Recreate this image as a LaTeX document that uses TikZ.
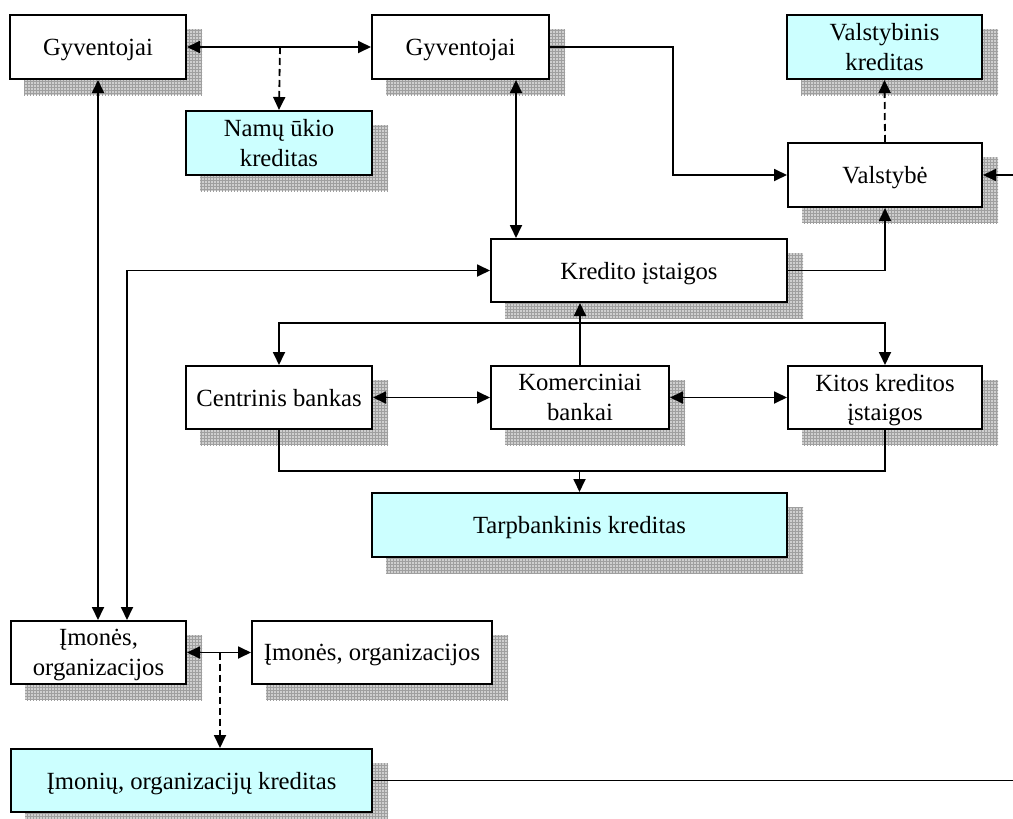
\documentclass[tikz,border=0pt]{standalone}
\usepackage{fontspec}
\setmainfont{Liberation Serif}
\usetikzlibrary{arrows.meta,patterns,backgrounds,calc}
\definecolor{lcyan}{HTML}{CCFFFF}
\tikzset{
  box/.style={draw, line width=2pt, fill=white, align=center, inner sep=0pt,
    text depth=0pt, font=\fontsize{24.7}{29.5}\selectfont},
  cbox/.style={box, fill=lcyan},
  conn/.style={line width=1.8pt},
  tip/.style={-{Triangle[length=13pt,width=12pt]}},
  bitip/.style={{Triangle[length=13pt,width=12pt]}-{Triangle[length=13pt,width=12pt]}},
  dconn/.style={conn, dash pattern=on 7pt off 4pt},
  shadowfill/.style={fill=gray!38},
  shadowgrid/.style={pattern=grid, pattern color=gray!75}
}
\begin{document}
\begin{tikzpicture}[x=1pt,y=-1pt]
\useasboundingbox (0,0) rectangle (1013,819);
\node[box, minimum width=176pt, minimum height=64pt] (g1) at (98,47) {Gyventojai};
\node[box, minimum width=177pt, minimum height=64pt] (g2) at (460.5,47) {Gyventojai};
\node[cbox, minimum width=186pt, minimum height=64pt] (namu) at (279,143) {Namų ūkio\\kreditas};
\node[cbox, minimum width=195pt, minimum height=64pt] (valk) at (884.5,47) {Valstybinis\\kreditas};
\node[box, minimum width=194pt, minimum height=64pt] (valst) at (885,175) {Valstybė};
\node[box, minimum width=296pt, minimum height=63pt] (kred) at (639,270.5) {Kredito įstaigos};
\node[box, minimum width=186pt, minimum height=63pt] (cb) at (279,397.5) {Centrinis bankas};
\node[box, minimum width=178pt, minimum height=63pt] (kom) at (580,397.5) {Komerciniai\\bankai};
\node[box, minimum width=194pt, minimum height=63pt] (kitos) at (885,397.5) {Kitos kreditos\\įstaigos};
\node[cbox, minimum width=415pt, minimum height=64pt] (tarp) at (579.5,525) {Tarpbankinis kreditas};
\node[box, minimum width=175pt, minimum height=63pt] (im1) at (98.5,652.5) {Įmonės,\\organizacijos};
\node[box, minimum width=240pt, minimum height=63pt] (im2) at (372,652.5) {Įmonės, organizacijos};
\node[cbox, minimum width=361pt, minimum height=63pt] (imk) at (191.5,780.5) {Įmonių, organizacijų kreditas};

\begin{scope}[on background layer]
\foreach \n in {g1,g2,namu,valk,valst,kred,cb,kom,kitos,tarp,im1,im2,imk}{
  \fill[shadowfill] ($(\n.north west)+(15,15)$) rectangle ($(\n.south east)+(15,15)$);
  \fill[shadowgrid] ($(\n.north west)+(15,15)$) rectangle ($(\n.south east)+(15,15)$);
}
\end{scope}

\coordinate (c1) at (280,47);
\coordinate (rightin) at (1013,175);
\coordinate (x516) at (516,0);
\coordinate (x127) at (127,0);
\coordinate (x220) at (220,0);
\coordinate (y323) at (0,323);
\coordinate (y471) at (0,471);
\coordinate (rightout) at (1013,780.5);

\draw[conn,bitip] (g1) -- (g2);
\draw[dconn,tip] (c1) -- (namu.north);
\draw[conn,tip] (g2.east) -- ++(123,0) |- (valst.west);
\draw[conn,tip] (rightin) -- (valst.east);
\draw[dconn,tip] (valst.north) -- (valk.south);
\draw[conn,bitip] (g2.south -| x516) -- (kred.north -| x516);
\draw[conn,tip] (kred.east) -| (valst.south);
\draw[conn,bitip] (g1.south) -- (g1.south |- im1.north);
\draw[conn,bitip] (im1.north -| x127) |- (kred.west);
\draw[conn,tip] (kom.north) -- (kom.north |- kred.south);
\draw[conn,tip] (kom.north |- y323) -| (cb.north);
\draw[conn,tip] (kom.north |- y323) -| (kitos.north);
\draw[conn,bitip] (cb) -- (kom);
\draw[conn,bitip] (kom) -- (kitos);
\draw[conn] (cb.south) -- (cb.south |- y471) -| (kitos.south);
\draw[conn,tip] (tarp.north |- y471) -- (tarp.north);
\draw[conn,bitip] (im1) -- (im2);
\draw[dconn,tip] (x220 |- im1.east) -- (x220 |- imk.north);
\draw[conn] (imk.east) -- (rightout);
\end{tikzpicture}
\end{document}
